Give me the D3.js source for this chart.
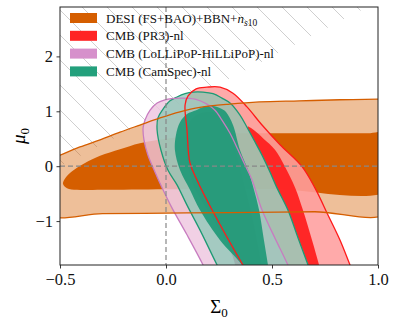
<!DOCTYPE html>
<html>
<head>
<meta charset="utf-8">
<script src="https://cdn.jsdelivr.net/npm/d3@7"></script>
<style>
body { margin: 0; background: #fff; }
svg { display: block; }
</style>
</head>
<body>
<svg id="chart" width="398" height="325"></svg>
<script>
// axis ranges and ticks
var sigmaRange = [-0.5, 1.0];
var muRange = [-1.8, 2.9];
var sigmaTicks = [-0.5, 0.0, 0.5, 1.0];
var muTicks = [-1, 0, 1, 2];

// hatched (excluded) region: mu0 > hatchSlope * Sigma0 + hatchIntercept
var hatchSlope = 2.0, hatchIntercept = 1.0;

// contour outlines, [Sigma0, mu0]
var desiOuter = [[-0.56, 0.10], [-0.5, 0.20], [-0.406, 0.35], [-0.311, 0.48], [-0.217, 0.62], [-0.123, 0.75],
    [-0.028, 0.88], [0.066, 0.99], [0.16, 1.07], [0.30, 1.13], [0.44, 1.17], [0.63, 1.19], [0.82, 1.21],
    [1.0, 1.22], [1.06, 1.22], [1.06, -0.82], [0.7, -0.83], [0.3, -0.845], [0.0, -0.855], [-0.3, -0.865], [-0.56, -0.87]];
var desiInner = [[-0.486, -0.32], [-0.472, -0.20], [-0.443, -0.09], [-0.382, 0.06], [-0.311, 0.19], [-0.217, 0.31],
    [-0.123, 0.42], [0.019, 0.51], [0.16, 0.57], [0.40, 0.60], [0.65, 0.60], [0.95, 0.60], [1.06, 0.60],
    [1.06, -0.415], [0.5, -0.415], [0.0, -0.42], [-0.3, -0.43], [-0.42, -0.43], [-0.467, -0.40]];

var pr3Outer = [[0.090, 1.115], [0.104, 1.28], [0.142, 1.41], [0.193, 1.44], [0.255, 1.44], [0.316, 1.33],
    [0.382, 1.08], [0.453, 0.75], [0.538, 0.39], [0.64, 0.0], [0.703, -0.40], [0.764, -0.89], [0.821, -1.35],
    [0.868, -1.80], [0.915, -2.25], [0.434, -2.25], [0.363, -1.80], [0.222, -0.83], [0.146, -0.25],
    [0.113, 0.06], [0.099, 0.66]];
var pr3Inner = [[0.385, 0.72], [0.42, 0.64], [0.46, 0.50], [0.514, 0.30], [0.56, 0.0], [0.61, -0.40],
    [0.646, -0.80], [0.689, -1.35], [0.722, -1.80], [0.755, -2.26], [0.712, -2.26], [0.670, -1.80],
    [0.623, -1.31], [0.575, -0.80], [0.524, -0.40], [0.491, -0.11], [0.453, 0.20], [0.420, 0.44]];

var hlpOuter = [[-0.108, 0.70], [-0.099, 0.84], [-0.075, 1.02], [-0.042, 1.15], [-0.005, 1.21], [0.066, 1.24],
    [0.137, 1.22], [0.193, 1.13], [0.231, 1.02], [0.264, 0.84], [0.302, 0.60], [0.340, 0.295], [0.373, 0.02],
    [0.406, -0.25], [0.453, -0.80], [0.514, -1.31], [0.575, -1.80], [0.623, -2.26], [0.231, -2.26],
    [0.175, -1.80], [0.099, -1.25], [0.028, -0.76], [-0.014, -0.43], [-0.052, -0.105], [-0.085, 0.20], [-0.104, 0.48]];
var hlpInner = [[0.12, 0.85], [0.17, 0.97], [0.24, 0.96], [0.29, 0.70], [0.33, 0.25], [0.37, -0.35], [0.41, -1.0],
    [0.45, -1.8], [0.47, -2.26], [0.37, -2.26], [0.31, -1.6], [0.22, -0.95], [0.13, -0.35], [0.095, 0.25], [0.10, 0.65]];

var camOuter = [[-0.042, 0.66], [-0.038, 0.88], [-0.014, 1.04], [0.019, 1.19], [0.052, 1.26], [0.090, 1.32],
    [0.127, 1.35], [0.175, 1.35], [0.222, 1.32], [0.264, 1.24], [0.302, 1.15], [0.349, 0.93], [0.382, 0.71],
    [0.420, 0.44], [0.453, 0.20], [0.491, -0.11], [0.524, -0.40], [0.575, -0.80], [0.623, -1.31], [0.670, -1.80],
    [0.712, -2.26], [0.302, -2.26], [0.241, -1.80], [0.160, -1.16], [0.099, -0.71], [0.052, -0.34], [0.009, -0.07],
    [-0.024, 0.295]];
var camInner = [[0.142, 1.02], [0.175, 1.08], [0.217, 1.10], [0.264, 1.04], [0.283, 0.985], [0.316, 0.75],
    [0.349, 0.295], [0.387, -0.07], [0.415, -0.43], [0.439, -0.80], [0.462, -1.35], [0.481, -1.80], [0.50, -2.26],
    [0.420, -2.26], [0.358, -1.80], [0.255, -1.35], [0.160, -0.80], [0.113, -0.43], [0.066, -0.07], [0.042, 0.295],
    [0.047, 0.57], [0.066, 0.80], [0.099, 0.95]];

var legendColors = ["#d55e00", "#ff2424", "#d690cb", "#23a07c"];

var pLeft = 60, pRight = 378, pTop = 7, pBottom = 265;
var svg = d3.select("#chart");
var x = d3.scaleLinear().domain(sigmaRange).range([pLeft, pRight]);
var y = d3.scaleLinear().domain(muRange).range([pBottom, pTop]);

var defs = svg.append("defs");
defs.append("clipPath").attr("id", "plotClip")
    .append("rect").attr("x", pLeft).attr("y", pTop).attr("width", pRight - pLeft).attr("height", pBottom - pTop);

// hatch region
var hatchTop = (muRange[1] - hatchIntercept) / hatchSlope;
var hatchPoly = [[sigmaRange[0], hatchSlope * sigmaRange[0] + hatchIntercept], [hatchTop, muRange[1]], [sigmaRange[0], muRange[1]]];
defs.append("clipPath").attr("id", "hatchClip")
    .append("path").attr("d", "M" + hatchPoly.map(p => x(p[0]) + "," + y(p[1])).join("L") + "Z");
var hatch = svg.append("g").attr("clip-path", "url(#hatchClip)")
    .attr("stroke", "#cfcfcf").attr("stroke-width", 1);
for (var k = -300; k < 420; k += 25) {
    hatch.append("line").attr("x1", k).attr("y1", 0).attr("x2", k + 330).attr("y2", 330);
}

var line = d3.line().x(d => x(d[0])).y(d => y(d[1])).curve(d3.curveCatmullRomClosed.alpha(0.5));
var plot = svg.append("g").attr("clip-path", "url(#plotClip)");

function fill(data, color, op) {
    plot.append("path").attr("d", line(data)).attr("fill", color).attr("fill-opacity", op).attr("stroke", "none");
}
function edge(data, color) {
    plot.append("path").attr("d", line(data)).attr("fill", "none").attr("stroke", color).attr("stroke-width", 1.3);
}

fill(desiOuter, "#d55e00", 0.4);
fill(desiInner, "#d55e00", 1);
fill(pr3Outer, "rgb(255,158,158)", 0.88);
fill(pr3Inner, "rgb(255,28,28)", 0.92);
fill(hlpOuter, "rgb(238,196,222)", 0.8);
fill(hlpInner, "rgb(204,121,167)", 1);
fill(camOuter, "rgb(134,200,179)", 0.72);
fill(camInner, "rgb(28,152,118)", 0.9);

edge(camOuter, "#1d9a74");
edge(hlpOuter, "#c87cc0");
edge(pr3Outer, "#ff1a1a");
edge(desiOuter, "#d55e00");

// reference lines
plot.append("line").attr("x1", x(0)).attr("x2", x(0)).attr("y1", pTop).attr("y2", pBottom)
    .attr("stroke", "#888").attr("stroke-width", 1.2).attr("stroke-dasharray", "5,3");
plot.append("line").attr("x1", pLeft).attr("x2", pRight).attr("y1", y(0)).attr("y2", y(0))
    .attr("stroke", "#888").attr("stroke-width", 1.2).attr("stroke-dasharray", "5,3");

// axes
var xAxis = svg.append("g").attr("transform", "translate(0," + pBottom + ")")
    .call(d3.axisBottom(x).tickValues(sigmaTicks).tickSize(3.5).tickPadding(5).tickFormat(d3.format(".1f")));
var yAxis = svg.append("g").attr("transform", "translate(" + pLeft + ",0)")
    .call(d3.axisLeft(y).tickValues(muTicks).tickSize(3.5).tickPadding(3.5).tickFormat(d3.format("d")));
[xAxis, yAxis].forEach(function (a) {
    a.select(".domain").remove();
    a.selectAll("line").attr("stroke", "#222").attr("stroke-width", 0.9);
    a.selectAll("text").attr("font-family", "Liberation Serif").attr("font-size", 16.5).attr("fill", "#111");
});
svg.append("rect").attr("x", pLeft).attr("y", pTop).attr("width", pRight - pLeft).attr("height", pBottom - pTop)
    .attr("fill", "none").attr("stroke", "#222").attr("stroke-width", 1);

// axis labels
var xl = svg.append("text").attr("x", (pLeft + pRight) / 2).attr("y", 313).attr("text-anchor", "middle")
    .attr("font-family", "Liberation Serif").attr("font-size", 19);
xl.append("tspan").text("Σ");
xl.append("tspan").attr("font-size", 13).attr("dy", 4).text("0");
var yl = svg.append("text").attr("transform", "translate(25," + ((pTop + pBottom) / 2) + ") rotate(-90)")
    .attr("text-anchor", "middle").attr("font-family", "Liberation Serif").attr("font-size", 19);
yl.append("tspan").attr("font-style", "italic").text("μ");
yl.append("tspan").attr("font-size", 13).attr("dy", 4).text("0");

// legend
var leg = svg.append("g").attr("font-family", "Liberation Serif").attr("font-size", 13);
legendColors.forEach(function (c, i) {
    var cy = 18 + i * 17.8;
    leg.append("rect").attr("x", 70).attr("y", cy - 5).attr("width", 27).attr("height", 10).attr("fill", c);
    var t = leg.append("text").attr("x", 106).attr("y", cy + 4.5).attr("fill", "#111");
    if (i == 0) {
        t.append("tspan").text("DESI (FS+BAO)+BBN+");
        t.append("tspan").attr("font-style", "italic").text("n");
        t.append("tspan").attr("font-size", 9.5).attr("dy", 3).attr("font-style", "italic").text("s");
        t.append("tspan").attr("font-size", 9.5).text("10");
    } else {
        t.text(["", "CMB (PR3)-nl", "CMB (LoLLiPoP-HiLLiPoP)-nl", "CMB (CamSpec)-nl"][i]);
    }
});
</script>
</body>
</html>
